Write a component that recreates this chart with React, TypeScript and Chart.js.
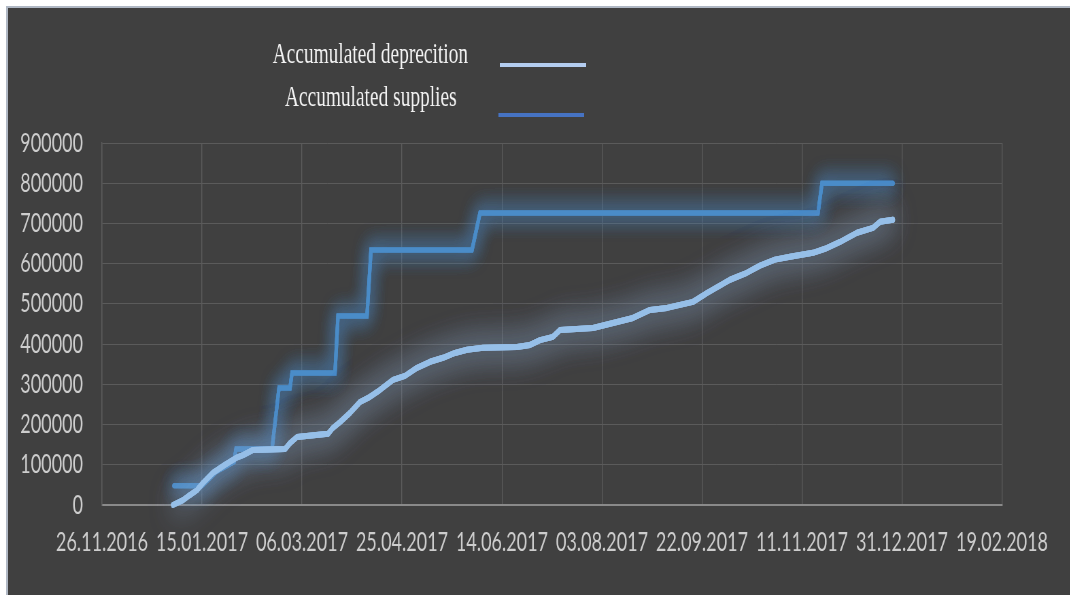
import React, { useEffect, useRef } from 'react';
import { Chart, registerables } from 'chart.js';

Chart.register(...registerables);

// Horizontal compression of the whole picture (the original is squeezed horizontally)
const S = 0.68;
const INNER_W = 1574;
const H = 595;

const BASE_DATE_UTC = Date.UTC(2016, 10, 26); // 26.11.2016 = day 0
const X_MIN_DAY = 0;
const X_MAX_DAY = 450;
const X_STEP_DAYS = 50;
const Y_MAX = 900000;
const Y_STEP = 100000;

const legendLabels = ['Accumulated deprecition', 'Accumulated supplies'];

// Accumulated depreciation: days since 26.11.2016 and values
const depreciationDays = [
  35.5, 40.5, 44, 47.5, 50.5, 55.5, 61.5, 67, 70.5, 75.5, 91.5, 94, 97.5, 113, 115.5, 119, 124, 129,
  134, 139, 145.5, 151.5, 157.5, 164, 170.5, 176.5, 182.5, 190.5, 207.5, 214, 219, 225.5, 229, 245.5,
  265.5, 274, 282.5, 295.5, 302.5, 314, 321.5, 329, 336.5, 344, 355.5, 361.5, 369, 377.5, 385.5, 389,
  395.5,
];
const depreciationValues = [
  0, 12000, 25000, 37000, 55000, 80000, 100000, 117000, 124000, 137000, 139000, 154000, 169000, 177000,
  192000, 206000, 229000, 256000, 269000, 286000, 311000, 321000, 341000, 356000, 366000, 378000, 386000,
  391000, 393000, 398000, 410000, 418000, 435000, 440000, 465000, 485000, 490000, 505000, 527000, 560000,
  575000, 595000, 610000, 617000, 627000, 637000, 654000, 677000, 689000, 704000, 709000,
];

// Accumulated supplies: days since 26.11.2016 and values
const suppliesDays = [36, 50, 57, 66, 67, 85, 88.5, 94, 95, 116.5, 118, 132.5, 134.5, 185, 189, 358, 360, 395.5];
const suppliesValues = [
  48000, 48000, 82000, 107000, 139000, 139000, 291000, 291000, 328000, 328000, 470000, 470000, 634000,
  634000, 726000, 726000, 800000, 800000,
];

function formatDay(day: number): string {
  const d = new Date(BASE_DATE_UTC + Math.round(day) * 86400000);
  const dd = String(d.getUTCDate()).padStart(2, '0');
  const mm = String(d.getUTCMonth() + 1).padStart(2, '0');
  return `${dd}.${mm}.${d.getUTCFullYear()}`;
}

const glowPlugin = {
  id: 'glow',
  beforeDatasetDraw(chart: any, args: any) {
    const ds = chart.data.datasets[args.index];
    const ctx = chart.ctx;
    const meta = args.meta;
    ctx.save();
    ctx.shadowColor = ds.glowColor;
    ctx.shadowBlur = ds.glowBlur;
    for (let k = 0; k < ds.glowPasses; k++) {
      meta.dataset.draw(ctx, chart.chartArea);
    }
  },
  afterDatasetDraw(chart: any) {
    chart.ctx.restore();
  },
};

const legendPlugin = {
  id: 'customLegend',
  afterDraw(chart: any) {
    const ctx = chart.ctx;
    ctx.save();
    ctx.font = '28.5px "Liberation Serif", serif';
    ctx.fillStyle = '#f2f2f2';
    ctx.textBaseline = 'alphabetic';
    ctx.textAlign = 'left';
    ctx.fillText(legendLabels[0], 401, 63);
    ctx.fillText(legendLabels[1], 419, 106);
    ctx.lineCap = 'butt';
    ctx.lineWidth = 4;
    ctx.strokeStyle = '#b4cdf0';
    ctx.beginPath();
    ctx.moveTo(735, 65);
    ctx.lineTo(862, 65);
    ctx.stroke();
    ctx.strokeStyle = '#4673c3';
    ctx.beginPath();
    ctx.moveTo(733, 115);
    ctx.lineTo(859, 115);
    ctx.stroke();
    ctx.restore();
  },
};

export default function App() {
  const ref = useRef<HTMLCanvasElement | null>(null);

  useEffect(() => {
    if (!ref.current) return;
    const tickFont = { family: 'Lato, "Open Sans", sans-serif', size: 26.5 };
    const chart = new Chart(ref.current, {
      type: 'line',
      data: {
        datasets: [
          {
            label: legendLabels[0],
            data: depreciationDays.map((d, i) => ({ x: d, y: depreciationValues[i] })),
            borderColor: '#96bfe8',
            borderWidth: 6,
            pointRadius: 0,
            tension: 0,
            borderJoinStyle: 'round',
            borderCapStyle: 'round',
            glowColor: 'rgba(140,170,205,0.75)',
            glowBlur: 34,
            glowPasses: 2,
          } as any,
          {
            label: legendLabels[1],
            data: suppliesDays.map((d, i) => ({ x: d, y: suppliesValues[i] })),
            borderColor: '#4a8cc8',
            borderWidth: 5,
            pointRadius: 0,
            tension: 0,
            borderJoinStyle: 'miter',
            borderCapStyle: 'round',
            glowColor: 'rgba(75,140,205,0.8)',
            glowBlur: 22,
            glowPasses: 2,
          } as any,
        ],
      },
      options: {
        animation: false,
        responsive: false,
        devicePixelRatio: 1,
        layout: { padding: { top: 143, right: 100.5, bottom: 0, left: 0 } },
        plugins: {
          legend: { display: false },
          tooltip: { enabled: false },
        },
        scales: {
          x: {
            type: 'linear',
            min: X_MIN_DAY,
            max: X_MAX_DAY,
            afterFit: (scale: any) => {
              scale.height = 90;
            },
            ticks: {
              stepSize: X_STEP_DAYS,
              autoSkip: false,
              maxRotation: 0,
              padding: 22,
              color: '#cdcdcd',
              font: tickFont,
              callback: (v: any) => formatDay(Number(v)),
            },
            grid: { color: '#5b5b5b', lineWidth: 1.4, drawTicks: false },
            border: { color: '#8a8a8a', width: 2 },
          },
          y: {
            min: 0,
            max: Y_MAX,
            afterFit: (scale: any) => {
              scale.width = 150;
            },
            ticks: {
              stepSize: Y_STEP,
              padding: 28,
              color: '#cdcdcd',
              font: tickFont,
              callback: (v: any) => String(v),
            },
            grid: { color: '#5b5b5b', lineWidth: 1, drawTicks: false },
            border: { color: '#5b5b5b', width: 1.4 },
          },
        },
      } as any,
      plugins: [glowPlugin, legendPlugin],
    });
    return () => chart.destroy();
  }, []);

  return (
    <div
      style={{
        position: 'fixed',
        left: 0,
        top: 0,
        width: 1070,
        height: H,
        background: '#ffffff',
        overflow: 'hidden',
      }}
    >
      <div
        style={{
          position: 'absolute',
          left: 6,
          top: 6,
          right: 0,
          bottom: 0,
          background: '#404040',
          borderLeft: '2px solid #b0b8c4',
          borderTop: '2px solid #b0b8c4',
        }}
      />
      <div
        style={{
          position: 'absolute',
          left: 0,
          top: 0,
          width: INNER_W,
          height: H,
          transform: `scaleX(${S})`,
          transformOrigin: '0 0',
        }}
      >
        <canvas ref={ref} width={INNER_W} height={H} style={{ display: 'block', width: INNER_W, height: H }} />
      </div>
    </div>
  );
}
